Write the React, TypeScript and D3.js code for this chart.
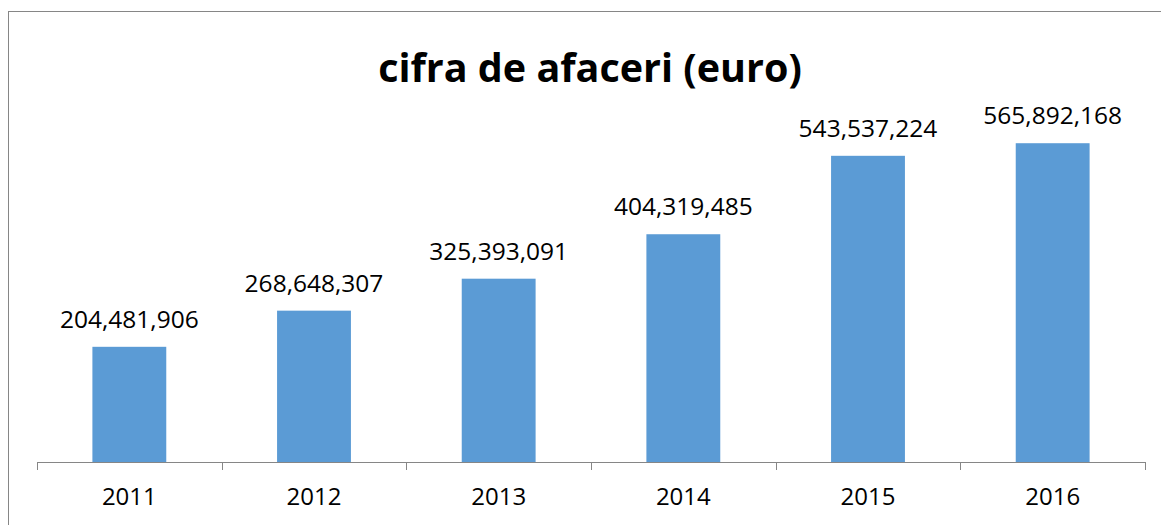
import { useEffect, useRef } from 'react';
import * as d3 from 'd3';

const years = ['2011', '2012', '2013', '2014', '2015', '2016'];
const revenue = [204481906, 268648307, 325393091, 404319485, 543537224, 565892168];
const yMax = 600000000;

const W = 1161;
const H = 525;
const FONT = '"Open Sans", "Noto Sans", sans-serif';

export default function App() {
  const svgRef = useRef<SVGSVGElement>(null);

  useEffect(() => {
    if (!svgRef.current) return;
    const svg = d3.select(svgRef.current);
    svg.selectAll('*').remove();

    // chart frame
    svg.append('rect')
      .attr('x', 8.5).attr('y', 11.5)
      .attr('width', W).attr('height', H)
      .attr('fill', '#fff')
      .attr('stroke', '#868686')
      .attr('stroke-width', 1);

    svg.append('text')
      .attr('x', 590).attr('y', 82)
      .attr('text-anchor', 'middle')
      .attr('font-family', FONT)
      .attr('font-weight', 'bold')
      .attr('font-size', 39.5)
      .attr('fill', '#000')
      .text('cifra de afaceri (euro)');

    const x = d3.scaleBand().domain(years).range([37, 1145]).paddingInner(0.6).paddingOuter(0.3);
    const y = d3.scaleLinear().domain([0, yMax]).range([462, 124]);

    svg.selectAll('rect.bar')
      .data(revenue)
      .join('rect')
      .attr('class', 'bar')
      .attr('x', (_, i) => x(years[i])!)
      .attr('y', d => y(d))
      .attr('width', x.bandwidth())
      .attr('height', d => y(0) - y(d))
      .attr('fill', '#5b9bd5');

    const fmt = d3.format(',');
    svg.selectAll('text.val')
      .data(revenue)
      .join('text')
      .attr('class', 'val')
      .attr('x', (_, i) => x(years[i])! + x.bandwidth() / 2)
      .attr('y', d => y(d) - 19)
      .attr('text-anchor', 'middle')
      .attr('font-family', FONT)
      .attr('font-size', 24.5)
      .attr('fill', '#000')
      .text(d => fmt(d));

    // category axis
    const axis = svg.append('g');
    axis.append('line')
      .attr('x1', 37).attr('x2', 1145)
      .attr('y1', 462.5).attr('y2', 462.5)
      .attr('stroke', '#868686');
    const step = (1145 - 37) / years.length;
    d3.range(years.length + 1).forEach(i => {
      const tx = Math.round(37 + i * step) + 0.5;
      axis.append('line')
        .attr('x1', tx).attr('x2', tx)
        .attr('y1', 462).attr('y2', 470)
        .attr('stroke', '#868686');
    });
    axis.selectAll('text')
      .data(years)
      .join('text')
      .attr('x', d => x(d)! + x.bandwidth() / 2)
      .attr('y', 505)
      .attr('text-anchor', 'middle')
      .attr('font-family', FONT)
      .attr('font-size', 24)
      .attr('fill', '#000')
      .text(d => d);
  }, []);

  return (
    <svg ref={svgRef} width={W} height={H}
      style={{ position: 'absolute', left: 0, top: 0, display: 'block', background: '#fff' }} />
  );
}
